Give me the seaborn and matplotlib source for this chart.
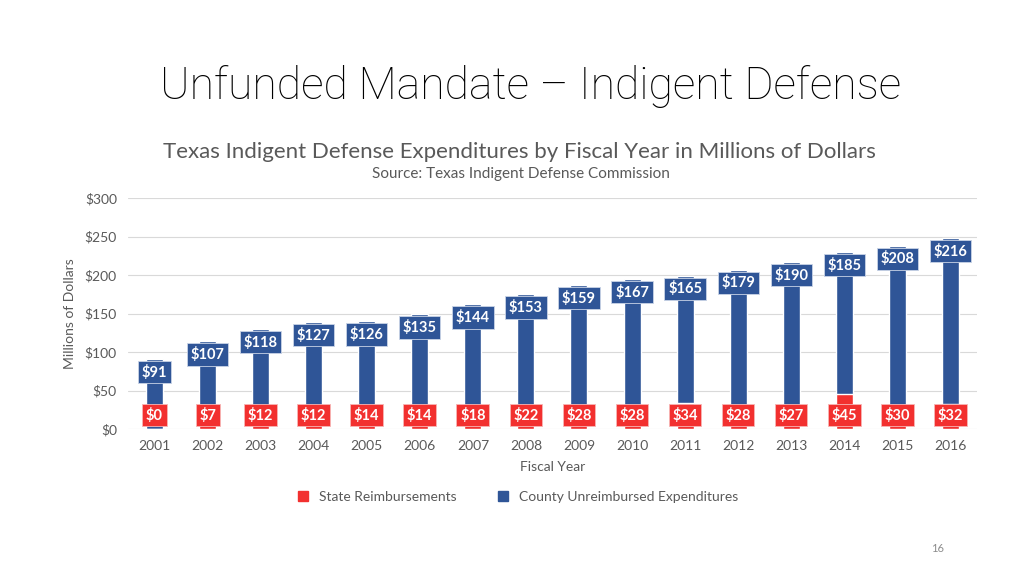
import matplotlib
matplotlib.use("Agg")
from matplotlib import pyplot as plt
from matplotlib.patches import Patch
import pandas as pd
import seaborn as sns

# values (millions of dollars)
years = [2001, 2002, 2003, 2004, 2005, 2006, 2007, 2008,
         2009, 2010, 2011, 2012, 2013, 2014, 2015, 2016]
state = [0, 7, 12, 12, 14, 14, 18, 22, 28, 28, 34, 28, 27, 45, 30, 32]
county = [91, 107, 118, 127, 126, 135, 144, 153,
          159, 167, 165, 179, 190, 185, 208, 216]
y_ticks = [0, 50, 100, 150, 200, 250, 300]

RED = "#F2302F"
BLUE = "#2F5597"
GREY = "#595959"

df = pd.DataFrame({"year": [str(y) for y in years], "state": state, "county": county})
df["total"] = df["state"] + df["county"]

sns.set_theme(style="white")
plt.rcParams["font.family"] = ["Lato", "DejaVu Sans"]

fig = plt.figure(figsize=(10.24, 5.76), dpi=100)
ax = fig.add_axes([0.125, 0.255, 0.829, 0.401])

# stacked bars: full total in blue, state share drawn over it in red
sns.barplot(data=df, x="year", y="total", color=BLUE, width=0.32,
            saturation=1, ax=ax, zorder=2)
sns.barplot(data=df, x="year", y="state", color=RED, width=0.32,
            saturation=1, ax=ax, zorder=3)

n = len(df)
blue_bars = ax.patches[:n]
for p, tot, c, s in zip(blue_bars, df["total"], df["county"], df["state"]):
    xc = p.get_x() + p.get_width() / 2
    ax.text(xc, tot - 17, f"${c}", ha="center", va="center", color="white",
            fontsize=10.5, fontweight="bold", zorder=5,
            bbox=dict(boxstyle="square,pad=0.25", fc=BLUE, ec="#C9D3E6", lw=0.6))
    ax.text(xc, 18, f"${s}", ha="center", va="center", color="white",
            fontsize=10.5, fontweight="bold", zorder=5,
            bbox=dict(boxstyle="square,pad=0.25", fc=RED, ec="#F7B5B5", lw=0.6))

ax.set_ylim(0, 300)
ax.set_yticks(y_ticks)
ax.set_yticklabels([f"${v}" for v in y_ticks])
ax.set_xlim(-0.5, n - 0.5)
ax.yaxis.grid(True, color="#D9D9D9", lw=0.8, zorder=0)
ax.set_axisbelow(True)
sns.despine(ax=ax, left=True, bottom=True)
ax.tick_params(axis="both", length=0, labelsize=10, colors=GREY, pad=8)
ax.set_xlabel("Fiscal Year", fontsize=10, color=GREY, labelpad=6)
ax.set_ylabel("Millions of Dollars", fontsize=10, color=GREY, labelpad=6)

# legend
handles = [Patch(color=RED, label="State Reimbursements"),
           Patch(color=BLUE, label="County Unreimbursed Expenditures")]
fig.legend(handles=handles, loc="center", bbox_to_anchor=(0.506, 0.137), ncol=2,
           frameon=False, fontsize=10, labelcolor=GREY, handlelength=0.7,
           handleheight=0.7, columnspacing=3, handletextpad=0.8)

fig.text(0.518, 0.850, "Unfunded Mandate \u2013 Indigent Defense", ha="center",
         va="center", fontsize=32, color="black", fontweight="light",
         family=["Roboto", "Lato", "DejaVu Sans"])
fig.text(0.507, 0.736, "Texas Indigent Defense Expenditures by Fiscal Year in Millions of Dollars",
         ha="center", va="center", fontsize=16, color=GREY)
fig.text(0.509, 0.698, "Source: Texas Indigent Defense Commission",
         ha="center", va="center", fontsize=11, color=GREY)
fig.text(0.916, 0.047, "16", ha="center", va="center", fontsize=8, color="#8C8C8C")

fig.savefig("out.png", dpi=100)
